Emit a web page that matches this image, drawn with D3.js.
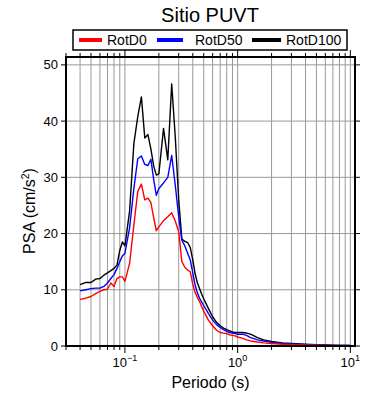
<!DOCTYPE html>
<html lang="en">
<head>
  <meta charset="UTF-8">
  <title>Sitio PUVT</title>
  <style>
    body { margin: 0; background: #fff; }
    svg { display: block; font-family: "Liberation Sans", Arial, sans-serif; }
  </style>
</head>
<body>

<svg width="390" height="400"></svg>

<script src="https://d3js.org/d3.v7.min.js"></script>
<script>

// Spectral periods (s)
let periods = [0.04, 0.045, 0.05, 0.055, 0.06, 0.065, 0.07, 0.075, 0.08, 0.085, 0.09, 0.095,
  0.1, 0.11, 0.12, 0.13, 0.14, 0.15, 0.16, 0.17, 0.18, 0.19, 0.2, 0.22, 0.24, 0.26, 0.28,
  0.3, 0.32, 0.34, 0.36, 0.38, 0.4, 0.42, 0.44, 0.46, 0.48, 0.5, 0.55, 0.6, 0.65, 0.7,
  0.75, 0.8, 0.85, 0.9, 0.95, 1.0, 1.1, 1.2, 1.3, 1.4, 1.5, 1.7, 2.0, 2.5, 3.0, 4.0,
  5.0, 6.0, 7.0, 8.0, 10.0];

// PSA values (cm/s2)
let rotD0 = [8.3, 8.5, 8.8, 9.3, 9.7, 10.0, 10.1, 11.2, 10.6, 12.0, 12.3, 12.3,
  11.5, 14.7, 21.5, 27.5, 28.8, 26.0, 26.3, 25.5, 22.8, 20.5, 21.2, 22.3, 23.0, 23.7, 22.2,
  20.3, 15.0, 14.0, 13.5, 13.2, 11.0, 9.5, 8.6, 7.9, 7.0, 6.2, 4.6, 3.6, 2.8, 2.4,
  2.3, 2.2, 2.0, 1.9, 1.8, 1.6, 1.4, 1.1, 0.9, 0.8, 0.7, 0.55, 0.45, 0.3, 0.25, 0.18,
  0.14, 0.11, 0.1, 0.09, 0.07];

let rotD50 = [9.8, 10.0, 10.2, 10.3, 10.3, 10.6, 11.2, 12.0, 12.7, 13.8, 15.0, 16.0,
  16.5, 21.0, 28.0, 33.3, 33.8, 32.3, 32.1, 33.2, 29.6, 26.8, 28.0, 29.0, 30.0, 33.9, 28.5,
  23.0, 18.8, 17.8, 16.5, 15.3, 13.0, 10.8, 9.4, 8.5, 7.8, 7.2, 5.8, 4.6, 3.8, 3.3,
  2.9, 2.6, 2.4, 2.3, 2.2, 2.1, 2.1, 1.9, 1.5, 1.3, 1.1, 0.9, 0.65, 0.45, 0.35, 0.25,
  0.2, 0.15, 0.12, 0.1, 0.08];

let rotD100 = [10.9, 11.3, 11.3, 11.9, 12.0, 12.6, 13.0, 13.4, 13.8, 14.4, 17.0, 18.5,
  17.8, 24.0, 36.0, 40.8, 44.3, 37.0, 37.6, 35.0, 32.0, 30.4, 30.6, 38.7, 33.1, 46.6, 37.0,
  26.0, 19.0, 18.6, 18.4, 17.5, 15.3, 12.8, 11.2, 10.2, 9.2, 8.4, 6.7, 5.2, 4.2, 3.6,
  3.2, 2.9, 2.7, 2.5, 2.4, 2.4, 2.4, 2.3, 2.1, 1.8, 1.5, 1.1, 0.8, 0.55, 0.45, 0.3,
  0.22, 0.17, 0.14, 0.12, 0.1];

let seriesNames = ["RotD0", "RotD50", "RotD100"];
let seriesColors = ["#ff0000", "#0000ff", "#000000"];
let yTicks = [0, 10, 20, 30, 40, 50];
let xMajor = [0.1, 1, 10];
let xMajorExp = ["\u22121", "0", "1"];

let svg = d3.select("svg");
let pLeft = 66, pRight = 355, pTop = 57, pBottom = 346;

let x = d3.scaleLog().domain([0.03, 11]).range([pLeft, pRight]);
let y = d3.scaleLinear().domain([0, 51.4]).range([pBottom, pTop]);

// minor log positions inside the domain
let xMinor = [];
[0.01, 0.1, 1, 10].forEach(d => {
  for (let k = 1; k < 10; k++) {
    let v = +(d * k).toPrecision(3);
    if (v >= 0.03 && v <= 11) xMinor.push(v);
  }
});

// grid
let grid = svg.append("g").attr("stroke", "#999").attr("stroke-width", 1);
grid.selectAll(".vg").data(xMinor.filter(v => v > 0.03)).enter().append("line")
    .attr("x1", d => x(d)).attr("x2", d => x(d))
    .attr("y1", pTop).attr("y2", pBottom);
grid.selectAll(".hg").data(yTicks.filter(v => v > 0)).enter().append("line")
    .attr("x1", pLeft).attr("x2", pRight)
    .attr("y1", d => y(d)).attr("y2", d => y(d));

// curves
let line = d3.line().x((d, i) => x(periods[i])).y(d => y(d));
let allSeries = [rotD0, rotD50, rotD100];
[2, 1, 0].forEach(i => {
  svg.append("path")
      .attr("d", line(allSeries[i]))
      .attr("fill", "none")
      .attr("stroke", seriesColors[i])
      .attr("stroke-width", 1.4)
      .attr("stroke-linejoin", "round");
});

// axes: outward ticks on all four sides
let ticks = svg.append("g").attr("stroke", "#000").attr("stroke-width", 1);
xMinor.forEach(v => {
  let len = xMajor.includes(v) ? 7 : 4;
  ticks.append("line").attr("x1", x(v)).attr("x2", x(v)).attr("y1", pTop).attr("y2", pTop - len);
  ticks.append("line").attr("x1", x(v)).attr("x2", x(v)).attr("y1", pBottom).attr("y2", pBottom + len);
});
yTicks.forEach(v => {
  ticks.append("line").attr("x1", pLeft).attr("x2", pLeft - 5).attr("y1", y(v)).attr("y2", y(v));
  ticks.append("line").attr("x1", pRight).attr("x2", pRight + 5).attr("y1", y(v)).attr("y2", y(v));
});

// frame
svg.append("rect")
    .attr("x", pLeft).attr("y", pTop)
    .attr("width", pRight - pLeft).attr("height", pBottom - pTop)
    .attr("fill", "none").attr("stroke", "#000").attr("stroke-width", 2);

// y tick labels
svg.selectAll(".yl").data(yTicks).enter().append("text")
    .attr("x", pLeft - 8).attr("y", d => y(d) + 4.5)
    .attr("text-anchor", "end").attr("font-size", 13)
    .text(d => d);

// x tick labels 10^n
xMajor.forEach((v, i) => {
  let t = svg.append("text")
      .attr("x", x(v)).attr("y", 367)
      .attr("text-anchor", "middle").attr("font-size", 13);
  t.append("tspan").text("10");
  t.append("tspan").attr("font-size", 9).attr("dy", -6).text(xMajorExp[i]);
});

// axis titles
svg.append("text")
    .attr("x", (pLeft + pRight) / 2).attr("y", 388)
    .attr("text-anchor", "middle").attr("font-size", 16)
    .text("Periodo (s)");

let yl = svg.append("text")
    .attr("transform", "translate(35, 211) rotate(-90)")
    .attr("text-anchor", "middle").attr("font-size", 16);
yl.append("tspan").text("PSA (cm/s");
yl.append("tspan").attr("font-size", 10.5).attr("dy", -6.5).text("2");
yl.append("tspan").attr("dy", 6.5).text(")");

// title
svg.append("text")
    .attr("x", 210).attr("y", 21.5)
    .attr("text-anchor", "middle").attr("font-size", 20)
    .text("Sitio PUVT");

// legend
let legend = svg.append("g");
legend.append("rect")
    .attr("x", 73).attr("y", 30).attr("width", 274).attr("height", 20)
    .attr("fill", "#fff").attr("stroke", "#000").attr("stroke-width", 1.5);
let legX = [79, 157, 252];
let legLen = [23, 26, 29];
let legTextX = [107, 195, 286];
seriesNames.forEach((name, i) => {
  legend.append("line")
      .attr("x1", legX[i]).attr("x2", legX[i] + legLen[i])
      .attr("y1", 40).attr("y2", 40)
      .attr("stroke", seriesColors[i]).attr("stroke-width", 4);
  legend.append("text")
      .attr("x", legTextX[i]).attr("y", 44.5)
      .attr("font-size", 14)
      .text(name);
});

</script>

</body>
</html>
